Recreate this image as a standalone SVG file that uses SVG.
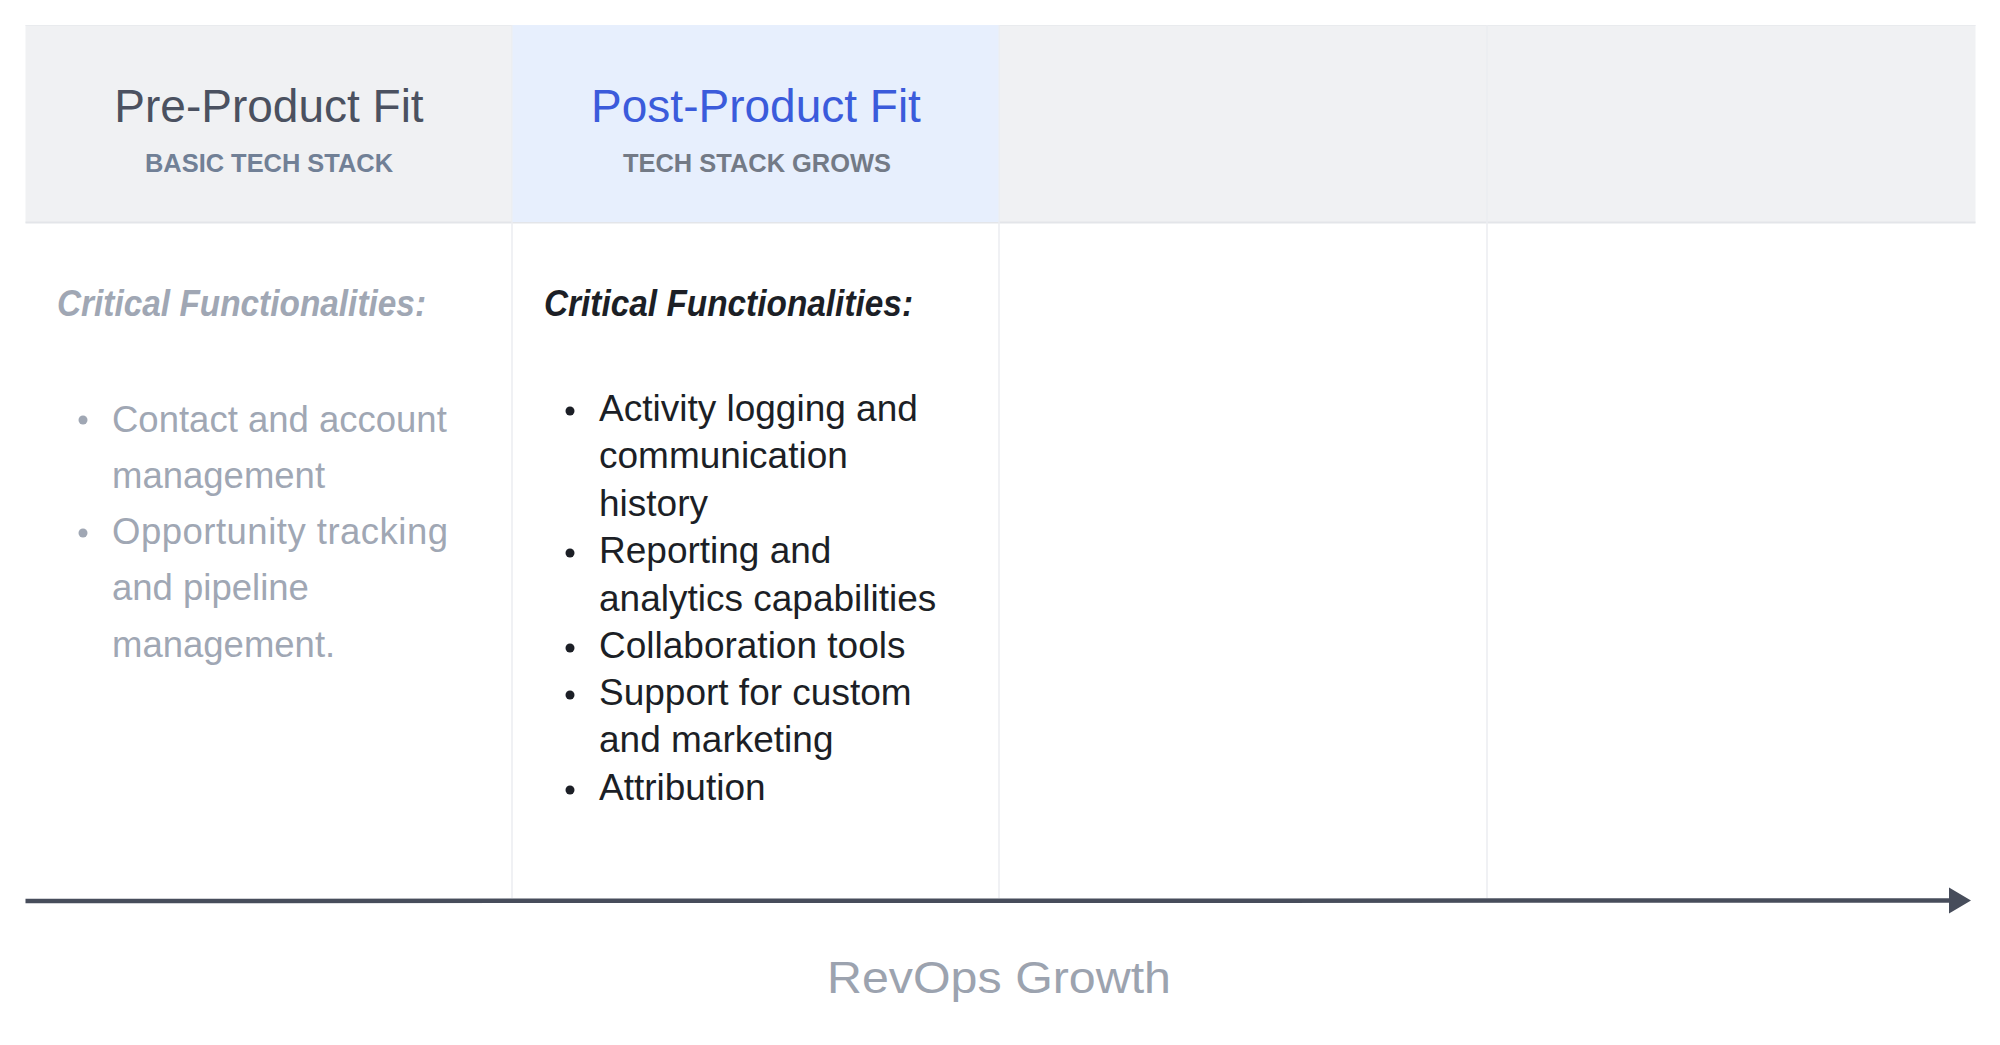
<svg xmlns="http://www.w3.org/2000/svg" width="2000" height="1045" viewBox="0 0 2000 1045">
  <defs>
    <marker id="arrowhead" markerUnits="userSpaceOnUse" markerWidth="24" markerHeight="28" refX="2" refY="13" orient="auto">
      <path d="M0,0 L22,13 L0,26 Z" fill="#474d5b"/>
    </marker>
    <style>
      .hdr { fill: #f0f1f3; }
      .hdr-active { fill: #e7effd; }
      .divider { stroke: #ebedf0; stroke-width: 1.5; }
      .title { font-family: "Liberation Sans", Arial, sans-serif; font-size: 46px; text-anchor: middle; }
      .sub { font-family: "Liberation Sans", Arial, sans-serif; font-size: 25px; font-weight: bold; text-anchor: middle; }
      .heading { font-family: "Liberation Sans", Arial, sans-serif; font-size: 36px; font-weight: bold; font-style: italic; }
      .body { font-family: "Liberation Sans", Arial, sans-serif; font-size: 37px; }
      .muted { fill: #a0a7b4; }
      .dark { fill: #1c1f26; }
      .axis-label { font-family: "Liberation Sans", Arial, sans-serif; font-size: 44px; fill: #9ca3af; text-anchor: middle; }
    </style>
  </defs>

  <rect width="2000" height="1045" fill="#ffffff"/>

  <!-- header band -->
  <rect class="hdr" x="25.5" y="25" width="1950" height="198"/>
  <line x1="25.5" y1="25.5" x2="1975.5" y2="25.5" stroke="#e9ebee" stroke-width="1"/>
  <line x1="25.5" y1="222.5" x2="1975.5" y2="222.5" stroke="#e3e5e9" stroke-width="2"/>

  <!-- column dividers -->
  <g id="dividers">
    <line class="divider" x1="512" y1="25" x2="512" y2="898"/>
    <line class="divider" x1="999" y1="25" x2="999" y2="898"/>
    <line class="divider" x1="1487" y1="25" x2="1487" y2="898"/>
  </g>

  <g id="pre-product-fit">
    <text class="title" x="269" y="122" fill="#4b5160">Pre-Product Fit</text>
    <text class="sub" x="269" y="172" fill="#718096" textLength="248" lengthAdjust="spacingAndGlyphs">BASIC TECH STACK</text>
    <text class="heading muted" x="57" y="316" textLength="369" lengthAdjust="spacingAndGlyphs" fill="#9ca3af">Critical Functionalities:</text>
    <circle cx="83" cy="420" r="4.5" fill="#a0a7b4"/>
    <circle cx="83" cy="533" r="4.5" fill="#a0a7b4"/>
    <text class="body muted" x="112" y="432" style="font-size:36.5px">Contact and account</text>
    <text class="body muted" x="112" y="488" style="font-size:36.5px">management</text>
    <text class="body muted" x="112" y="544" style="font-size:36.5px" textLength="336">Opportunity tracking</text>
    <text class="body muted" x="112" y="600" style="font-size:36.5px">and pipeline</text>
    <text class="body muted" x="112" y="657" style="font-size:36.5px">management.</text>
  </g>

  <g id="post-product-fit">
    <rect class="hdr-active" x="512.5" y="25" width="486" height="197"/>
    <text class="title" x="756" y="122" fill="#3b5bdb">Post-Product Fit</text>
    <text class="sub" x="757" y="172" fill="#737a86" textLength="268" lengthAdjust="spacingAndGlyphs">TECH STACK GROWS</text>
    <text class="heading dark" x="544" y="316" textLength="369" lengthAdjust="spacingAndGlyphs">Critical Functionalities:</text>
    <circle cx="570" cy="411" r="4.5" fill="#1c1f26"/>
    <circle cx="570" cy="553" r="4.5" fill="#1c1f26"/>
    <circle cx="570" cy="648" r="4.5" fill="#1c1f26"/>
    <circle cx="570" cy="695" r="4.5" fill="#1c1f26"/>
    <circle cx="570" cy="790" r="4.5" fill="#1c1f26"/>
    <text class="body dark" x="599" y="421">Activity logging and</text>
    <text class="body dark" x="599" y="468">communication</text>
    <text class="body dark" x="599" y="516">history</text>
    <text class="body dark" x="599" y="563">Reporting and</text>
    <text class="body dark" x="599" y="611">analytics capabilities</text>
    <text class="body dark" x="599" y="658">Collaboration tools</text>
    <text class="body dark" x="599" y="705">Support for custom</text>
    <text class="body dark" x="599" y="752">and marketing</text>
    <text class="body dark" x="599" y="800">Attribution</text>
  </g>

  <g id="column-3"></g>
  <g id="column-4"></g>

  <g id="connectors">
    <line x1="25.5" y1="901" x2="1951" y2="900.5" stroke="#474d5b" stroke-width="4.5" marker-end="url(#arrowhead)"/>
  </g>

  <g id="axis-label">
    <text class="axis-label" x="999" y="993" textLength="344" lengthAdjust="spacingAndGlyphs">RevOps Growth</text>
  </g>
</svg>
